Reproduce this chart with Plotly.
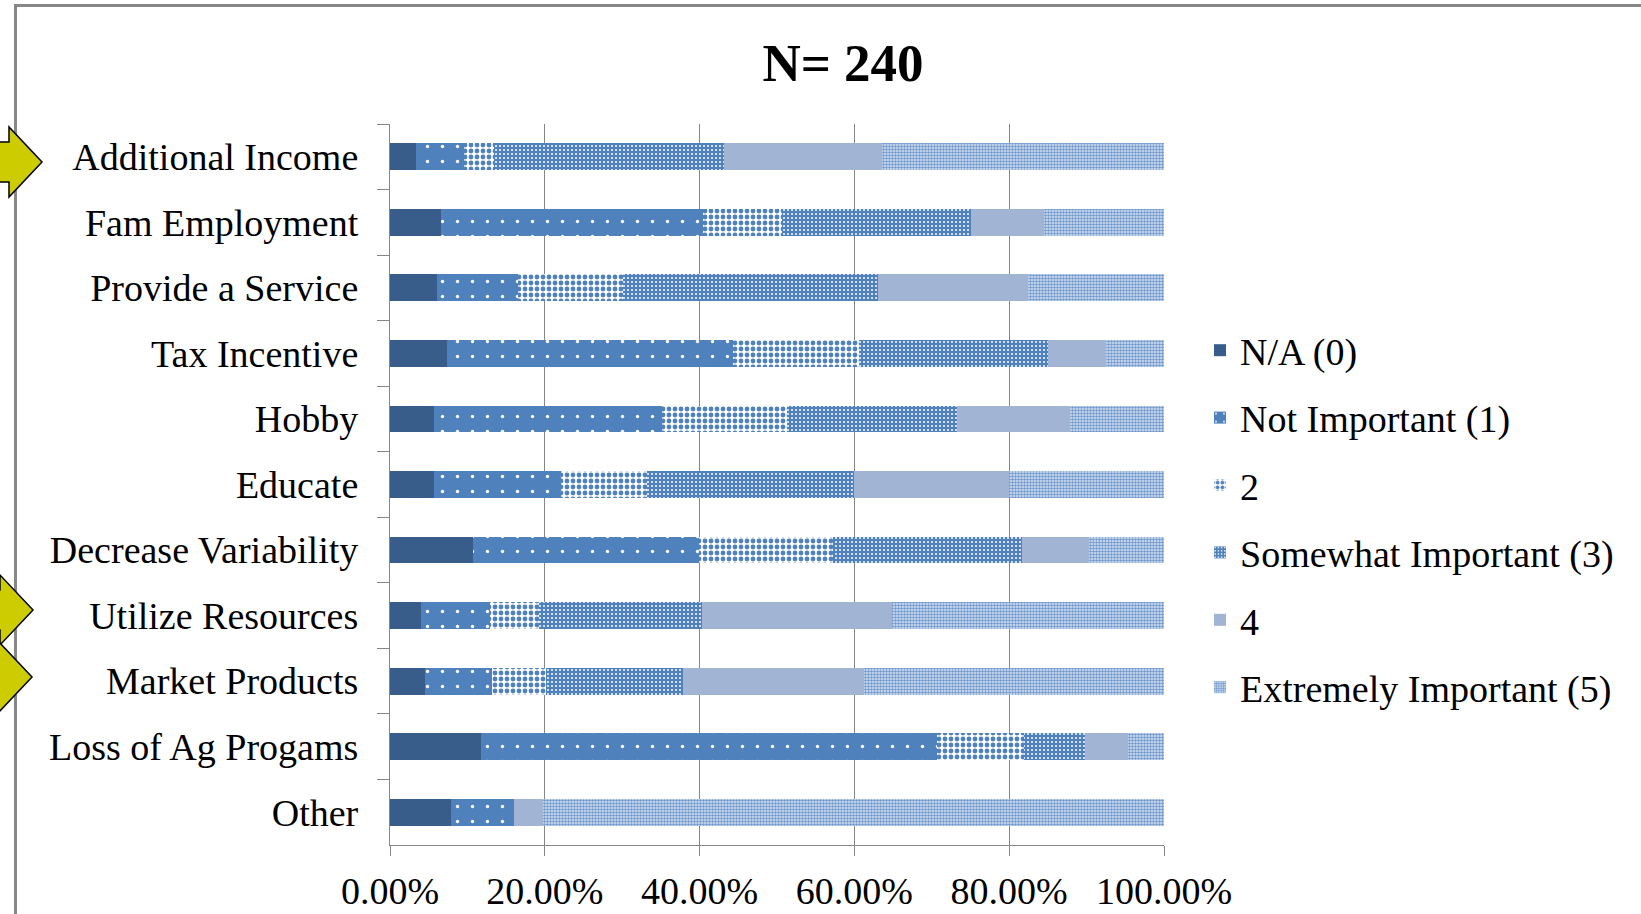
import plotly.graph_objects as go

# Reasons for the enterprise, share of respondents (%) per importance rating
categories = [
    "Additional Income", "Fam Employment", "Provide a Service", "Tax Incentive",
    "Hobby", "Educate", "Decrease Variability", "Utilize Resources",
    "Market Products", "Loss of Ag Progams", "Other",
]
na_0 = [3.3, 6.6, 6.1, 7.4, 5.7, 5.7, 10.7, 4.0, 4.5, 11.7, 7.9]
not_important_1 = [6.3, 33.8, 10.4, 36.9, 29.4, 16.4, 29.2, 8.9, 8.7, 59.0, 8.1]
rating_2 = [3.9, 10.2, 13.6, 16.3, 16.2, 11.1, 17.3, 6.4, 7.0, 11.2, 0.0]
somewhat_3 = [29.7, 24.4, 32.9, 24.4, 22.0, 26.8, 24.4, 21.0, 17.7, 7.9, 0.0]
rating_4 = [20.4, 9.5, 19.4, 7.5, 14.6, 20.0, 8.7, 24.5, 23.3, 5.6, 3.8]
extremely_5 = [36.4, 15.5, 17.6, 7.5, 12.1, 20.0, 9.7, 35.2, 38.8, 4.6, 80.2]

series_names = ["N/A (0)", "Not Important (1)", "2", "Somewhat Important (3)", "4",
                "Extremely Important (5)"]
series_values = [na_0, not_important_1, rating_2, somewhat_3, rating_4, extremely_5]

x_ticks = [0, 20, 40, 60, 80, 100]
x_tick_labels = ["0.00%", "20.00%", "40.00%", "60.00%", "80.00%", "100.00%"]
highlighted = ["Additional Income", "Utilize Resources", "Market Products"]

BLUE = "#4F81BD"
styles = [
    dict(color="#385D8A", pattern=dict(shape="")),
    dict(color=BLUE, pattern=dict(shape=".", fgcolor="#FFFFFF", bgcolor=BLUE,
                                  size=15, solidity=0.04, fillmode="replace")),
    dict(color=BLUE, pattern=dict(shape=".", fgcolor=BLUE, bgcolor="#FFFFFF",
                                  size=6, solidity=0.5, fillmode="replace")),
    dict(color=BLUE, pattern=dict(shape=".", fgcolor="#FFFFFF", bgcolor=BLUE,
                                  size=4, solidity=0.2, fillmode="replace")),
    dict(color="#A1B4D4", pattern=dict(shape="")),
    dict(color=BLUE, pattern=dict(shape=".", fgcolor="#6F97CC", bgcolor="#DCE6F4",
                                  size=3, solidity=0.55, fillmode="replace")),
]

W, H = 1641, 914
ML, MR, MT, MB = 390, 477, 124, 69
PW, PH = W - ML - MR, H - MT - MB
SERIF = "Liberation Serif, Times New Roman, serif"


def px_x(p):
    return (p - ML) / PW


def px_y(p):
    return (H - MB - p) / PH


fig = go.Figure()
for name, vals, st in zip(series_names, series_values, styles):
    fig.add_trace(go.Bar(
        y=categories, x=vals, name=name, orientation="h",
        legendgroup=name,
        marker=dict(color=st["color"], pattern=st["pattern"], line=dict(width=0)),
    ))

# Outer chart frame (top and left edges)
frame = dict(type="line", xref="paper", yref="paper", layer="above",
             line=dict(color="#878787", width=3))
shapes = [
    dict(frame, x0=px_x(14), x1=px_x(W + 5), y0=px_y(5.5), y1=px_y(5.5)),
    dict(frame, x0=px_x(15.5), x1=px_x(15.5), y0=px_y(4), y1=px_y(H + 5)),
]


# Yellow block arrows pointing at the highlighted reasons
def arrow_path(tip_x, cy):
    head_len, head_half, shaft_half = 33, 35, 20
    bx = tip_x - head_len
    pts = [(bx - 60, cy - shaft_half), (bx, cy - shaft_half), (bx, cy - head_half),
           (tip_x, cy), (bx, cy + head_half), (bx, cy + shaft_half),
           (bx - 60, cy + shaft_half)]
    return "M " + " L ".join(f"{px_x(x):.5f},{px_y(y):.5f}" for x, y in pts) + " Z"


arrow_tips = {"Additional Income": (42, 162), "Utilize Resources": (33, 610),
              "Market Products": (32, 677)}
for cat in highlighted:
    tx, ty = arrow_tips[cat]
    shapes.append(dict(type="path", xref="paper", yref="paper", layer="above",
                       path=arrow_path(tx, ty), fillcolor="#CCCC00",
                       line=dict(color="#000000", width=1.5)))

fig.update_layout(
    width=W, height=H,
    margin=dict(l=ML, r=MR, t=MT, b=MB, autoexpand=False),
    paper_bgcolor="white", plot_bgcolor="white",
    barmode="stack", bargap=0.59,
    font=dict(family=SERIF, size=38, color="#000000"),
    title=dict(text="N= 240", x=843 / W, xanchor="center", y=1 - 62 / H,
               yanchor="middle", font=dict(family=SERIF, size=53, weight="bold",
                                           color="#000000")),
    xaxis=dict(range=[0, 100], tickmode="array", tickvals=x_ticks,
               ticktext=x_tick_labels,
               showgrid=True, gridcolor="#868686", gridwidth=1.3, zeroline=False,
               showline=True, linecolor="#868686", linewidth=1.3,
               ticks="outside", ticklen=10, tickcolor="#868686", tickwidth=1.3,
               ticklabelstandoff=2, fixedrange=True),
    yaxis=dict(autorange="reversed", type="category", showgrid=False,
               showline=True, linecolor="#868686", linewidth=1.3,
               ticks="outside", ticklen=12, tickcolor="#868686", tickwidth=1.3,
               tickson="boundaries", ticklabelstandoff=23, fixedrange=True),
    legend=dict(x=px_x(1200), xanchor="left", y=px_y(319), yanchor="top",
                traceorder="grouped", tracegroupgap=15,
                font=dict(family=SERIF, size=38, color="#000000"),
                itemwidth=30, bgcolor="rgba(0,0,0,0)"),
    shapes=shapes,
    showlegend=True,
)

fig.write_html("out.html")
